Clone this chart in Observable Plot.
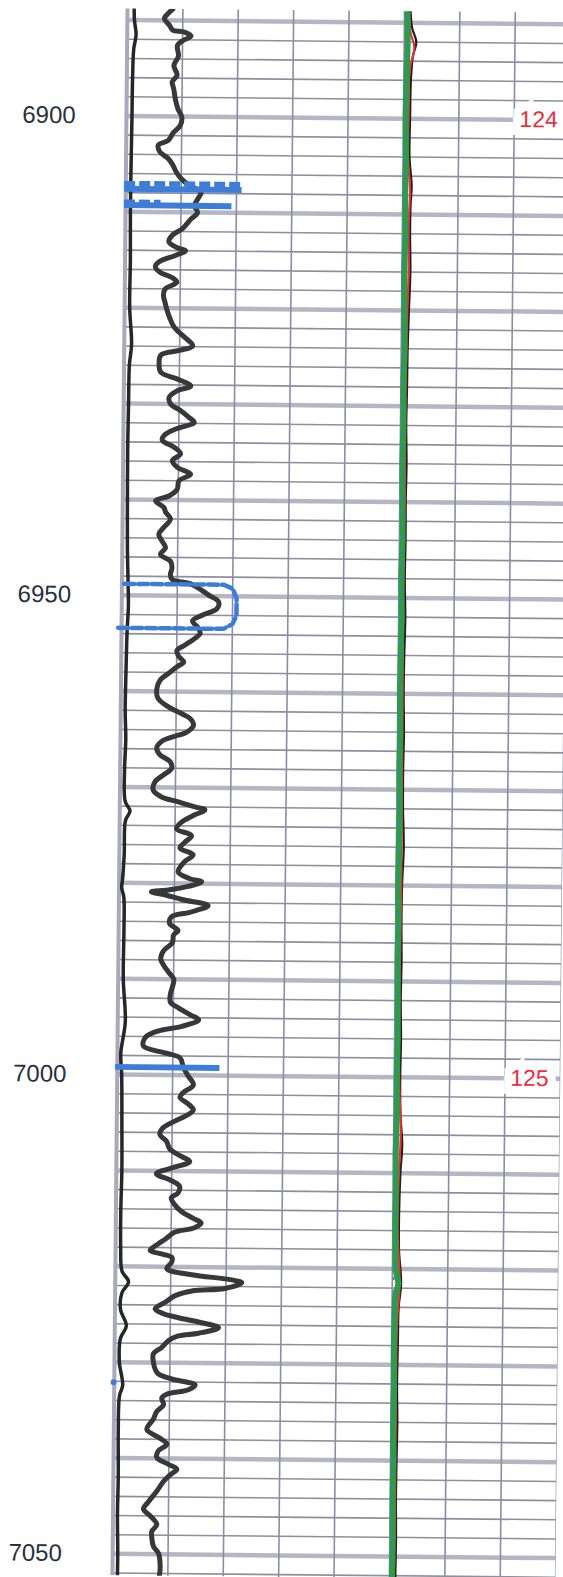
<!DOCTYPE html>
<html><head><meta charset="utf-8">
<script src="https://cdn.jsdelivr.net/npm/d3@7"></script>
<script src="https://cdn.jsdelivr.net/npm/@observablehq/plot@0.6"></script>
<style>
html,body{margin:0;padding:0;background:#fff;overflow:hidden;}
#chart svg{display:block;transform:rotate(0.55deg);transform-origin:50% 50%;}
</style></head><body><div id="chart"></div>
<script>
// ---- Depth labels / grid ----
const depthLabels = [6900, 6950, 7000, 7050];
const columnTicks = [0, 25, 50, 75, 100, 125, 150, 175, 200];
const thinStep = 2, thickStep = 10;

// ---- Gamma-ray style curve (track 1) ----
const grDepth = [6888.8,6889.3,6889.8,6890.5,6891.0,6891.2,6891.6,6892.1,6892.6,6893.7,6894.7,6895.7,6896.4,6897.1,6898.2,6899.2,6900.1,6901.0,6901.7,6902.5,6903.0,6903.7,6904.4,6905.1,6905.8,6906.5,6907.2,6907.9,6908.6,6909.3,6910.0,6910.7,6911.7,6912.4,6913.1,6913.7,6914.0,6914.5,6915.2,6915.7,6916.3,6916.8,6917.3,6918.0,6918.7,6919.4,6920.1,6920.9,6922.0,6923.0,6923.9,6924.4,6924.9,6925.8,6926.7,6927.4,6928.1,6928.6,6929.3,6930.0,6930.7,6931.4,6931.9,6932.6,6933.3,6933.8,6934.5,6935.2,6935.9,6936.6,6937.3,6938.0,6938.9,6939.6,6940.1,6940.8,6941.3,6942.0,6942.9,6943.6,6944.3,6945.0,6945.7,6946.4,6947.1,6947.8,6948.3,6948.8,6949.9,6950.6,6951.3,6952.0,6952.6,6953.3,6953.9,6954.4,6955.1,6955.7,6956.3,6956.9,6957.4,6958.1,6958.8,6959.7,6960.7,6961.6,6962.3,6962.8,6963.5,6964.2,6964.7,6965.2,6965.9,6966.6,6967.3,6968.0,6968.7,6969.4,6970.3,6971.0,6971.5,6972.0,6972.3,6972.9,6973.6,6974.3,6975.0,6975.7,6976.3,6977.0,6977.7,6978.8,6979.5,6979.8,6980.3,6980.7,6980.9,6981.2,6981.7,6982.3,6983.0,6983.5,6984.2,6984.9,6985.4,6986.2,6987.0,6987.9,6988.6,6989.3,6990.0,6990.9,6991.6,6992.4,6993.0,6993.7,6994.2,6994.9,6995.4,6996.1,6997.0,6997.7,6998.2,6999.2,7000.1,7001.0,7001.8,7002.3,7003.0,7003.6,7004.1,7004.8,7005.5,7006.2,7006.9,7007.7,7008.4,7009.0,7009.7,7010.3,7011.0,7011.6,7012.3,7012.8,7013.5,7014.2,7014.9,7015.4,7015.9,7016.4,7017.1,7017.6,7018.3,7018.7,7019.0,7019.5,7020.2,7020.8,7021.3,7021.6,7022.2,7022.5,7023.0,7023.7,7024.4,7024.9,7025.3,7025.8,7026.3,7026.9,7027.2,7027.7,7028.4,7029.1,7030.0,7030.7,7031.2,7031.7,7032.3,7032.8,7033.3,7033.7,7034.4,7035.1,7035.9,7037.0,7037.8,7038.5,7039.2,7039.9,7040.6,7041.1,7041.7,7042.4,7043.4,7044.5,7045.3,7046.0,7046.9,7047.6,7048.3,7049.2,7049.9,7051.4,7052.5];
const grValue = [20.5,18.2,16.7,19.0,20.5,25.8,28.8,25.0,22.7,23.2,21.2,22.7,20.5,21.2,22.0,23.2,25.0,24.2,21.2,19.0,14.5,15.2,19.0,21.2,22.7,25.0,28.8,34.0,32.5,31.0,32.5,29.5,25.8,21.2,19.7,23.5,27.3,22.7,15.2,13.7,16.0,21.2,23.5,18.2,17.5,18.2,19.0,20.2,22.5,27.1,30.9,24.8,16.6,15.8,16.6,24.2,30.2,24.2,20.5,21.2,25.8,29.6,31.9,23.6,18.3,17.6,22.9,25.9,22.2,24.5,30.5,25.3,24.5,20.8,14.8,18.6,19.4,21.6,18.6,16.4,17.9,19.5,17.2,21.8,22.5,21.8,22.6,31.6,39.2,43.7,43.0,36.3,32.0,34.5,35.5,33.3,28.9,25.1,25.9,28.2,25.2,21.4,17.7,16.2,16.7,21.5,27.6,31.4,32.9,29.9,23.9,18.6,16.4,17.9,22.5,23.2,19.5,15.8,15.0,18.8,26.4,33.9,38.4,33.2,27.9,25.7,32.5,29.5,27.3,33.3,29.6,26.6,31.9,37.2,31.2,22.1,14.6,20.6,28.9,40.3,32.0,23.7,23.0,26.8,24.8,24.3,20.5,19.1,20.6,22.8,25.1,24.4,23.6,23.7,27.5,32.7,36.5,29.0,18.5,12.5,11.7,21.5,28.3,29.8,32.1,34.4,29.9,28.4,32.2,34.5,32.2,26.2,20.9,19.5,22.5,24.0,28.6,33.1,24.8,18.1,24.8,28.6,27.9,24.9,26.4,29.4,34.7,38.5,35.5,26.5,22.5,19.3,15.6,21.6,25.4,25.4,23.2,34.5,52.6,57.1,49.6,34.6,27.1,22.6,18.1,21.9,28.7,39.2,46.8,37.8,28.7,24.3,21.3,17.5,17.6,18.4,19.9,25.9,36.5,33.5,23.7,21.5,22.3,19.3,17.8,14.9,20.2,24.0,20.2,19.5,24.8,28.6,25.6,22.6,19.7,16.0,13.7,16.8,19.8,17.6,17.6,18.4,20.7,21.5,21.0];

// ---- Left edge curve (track 1, near zero) ----
const leftDepth = [6888,6890,6891.5,6893,6896,6900,6905,6910,6915,6920,6923.8,6926,6930,6935,6940,6945,6949,6951,6954,6958,6962,6965,6968,6971.5,6972.5,6973.5,6977,6979.5,6980.5,6981.5,6985,6990,6994.5,6997.8,7000,7005,7010,7014,7018,7020.5,7021.6,7022.8,7024.5,7026.2,7027.5,7030,7032.4,7033.5,7037,7042,7046,7050,7053];
const leftValue = [3.0,3.2,4.0,3.0,2.6,2.5,2.3,2.2,2.4,2.3,3.3,2.4,2.2,2.0,2.1,2.3,2.8,3.0,2.5,2.2,2.0,2.4,2.0,2.4,4.6,2.6,2.2,1.6,1.2,2.2,2.4,2.3,3.4,1.5,2.0,2.3,2.5,2.2,2.3,3.0,6.0,3.0,2.5,5.2,2.6,2.2,3.8,2.4,2.0,2.2,2.0,2.3,2.2];

// ---- Track 2 curves (green / red / black) ----
const greenDepth = [6888,6892,6896,6900,6904,6908,6912,6916,6920,6924,6928,6932,6936,6940,6944,6948,6952,6956,6960,6964,6968,6972,6976,6980,6984,6988,6992,6996,7000,7004,7008,7012,7016,7020,7021.5,7023,7028,7032,7036,7040,7044,7048,7053];
const greenValue = [126.3,126.6,126.2,126.0,126.3,126.1,126.4,126.0,126.2,126.5,126.1,126.3,126.0,126.2,126.4,126.0,126.3,126.1,125.9,126.2,126.0,126.3,126.1,125.9,126.2,126.0,126.2,126.4,126.1,126.3,126.0,126.2,126.1,126.4,127.8,126.3,126.0,126.2,126.0,126.2,126.1,126.3,126.1];
const blackDepth = [6888,6890.5,6892,6893.5,6896,6900,6904,6907,6909,6912,6916,6920,6924,6928,6932,6936,6940,6944,6948,6952,6956,6960,6964,6968,6972,6976,6980,6984,6988,6992,6996,7000,7004,7007,7010,7014,7018,7021.5,7024,7028,7032,7036,7040,7044,7048,7053];
const blackValue = [127.6,128.5,130.5,129.0,128.2,128.0,127.9,129.0,128.6,128.5,128.8,128.3,127.9,127.8,127.6,127.9,127.7,127.8,127.6,128.0,127.7,127.6,127.9,127.7,127.8,128.3,127.7,127.6,127.8,127.6,127.9,127.7,128.0,128.9,128.2,127.8,127.9,129.0,128.0,127.8,127.6,127.9,127.7,127.6,127.8,127.6];
const redDepth = [6888,6891,6892.5,6895,6900,6904,6907.5,6911,6916,6922,6930,6940,6950,6960,6970,6980,6990,7000,7006,7010,7016,7021.5,7026,7035,7045,7053];
const redValue = [127.0,127.8,129.6,127.6,127.3,127.2,128.3,127.8,128.0,127.4,127.1,127.2,127.0,127.1,127.2,127.3,127.0,127.2,128.2,127.5,127.2,128.3,127.3,127.1,127.2,127.0];
const blueTickDepth = [6888, 7053];
const blueTickValue = [125.6, 125.6];

// ---- Blue interval markers ----
const markerDepth = [6907.05, 6907.6, 6909.0, 6909.3, 6999.2];
const markerFrom  = [-0.5, -0.5, -0.5, -0.5, -0.8];
const markerTo    = [52.5, 52.5, 16, 48, 46.3];
const markerDash  = [true, false, true, false, false];
const boxDepth = [6948.8, 6948.8, 6949.2, 6950.2, 6952.0, 6952.9, 6953.4, 6953.4];
const boxValue = [1, 46, 50, 51.8, 51.8, 50, 46, -1.5];
const dotDepth = [7032.1];
const dotValue = [-0.3];

// ---- Red annotations ----
const noteDepth = [6900, 7000];
const noteText = ["124", "125"];
const noteX = [186, 186];

// ---- build tables ----
const zip = (ds, vs) => ds.map((d, i) => ({d, v: vs[i]}));
const gr = zip(grDepth, grValue);
const leftCurve = zip(leftDepth, leftValue);
const green = zip(greenDepth, greenValue);
const black = zip(blackDepth, blackValue);
const red = zip(redDepth, redValue);
const blueTick = zip(blueTickDepth, blueTickValue);
const markers = markerDepth.map((d, i) => ({d, from: markerFrom[i], to: markerTo[i], dash: markerDash[i]}));
const box = zip(boxDepth, boxValue);
const dots = zip(dotDepth, dotValue);
const notes = noteDepth.map((d, i) => ({d, t: noteText[i], x: noteX[i]}));

const yTop = 6888.84, yBottom = 7052.3;
const thinGrid = d3.range(6890, 7053, thinStep);
const thickGrid = d3.range(6890, 7053, thickStep);
const blue = "#3d7dd8";

const plot = Plot.plot({
  width: 563, height: 1577,
  marginLeft: 119.5, marginRight: 0.3, marginTop: 10, marginBottom: 0,
  x: {domain: [0, 200], axis: null},
  y: {domain: [yTop, yBottom], reverse: true, axis: null, label: null},
  style: {background: "#fff", fontFamily: "'Liberation Sans', Arial, sans-serif"},
  marks: [
    Plot.ruleY(thinGrid, {stroke: "#8e8ea0", strokeWidth: 1.6}),
    Plot.ruleY(thickGrid, {stroke: "#b5b5c4", strokeWidth: 4.5}),
    Plot.ruleX(columnTicks.slice(1), {stroke: "#8c8ca8", strokeWidth: 1.6}),
    Plot.ruleX([0], {stroke: "#a9a9bb", strokeWidth: 4}),
    Plot.line(leftCurve, {x: "v", y: "d", stroke: "#262626", strokeWidth: 3.5, curve: "catmull-rom", clip: true}),
    Plot.line(gr, {x: "v", y: "d", stroke: "#383838", strokeWidth: 5, curve: "catmull-rom", clip: true}),
    Plot.line(black, {x: "v", y: "d", stroke: "#1e1e1e", strokeWidth: 2.2, curve: "catmull-rom", clip: true}),
    Plot.line(red, {x: "v", y: "d", stroke: "#e8303a", strokeWidth: 2.2, curve: "catmull-rom", clip: true}),
    Plot.line(green, {x: "v", y: "d", stroke: "#2f9b48", strokeWidth: 6, clip: true}),
    Plot.line(blueTick, {x: "v", y: "d", stroke: blue, strokeWidth: 1.5, strokeDasharray: "2,11", clip: true}),
    Plot.ruleY(markers.filter(m => !m.dash), {y: "d", x1: "from", x2: "to", stroke: blue, strokeWidth: 6}),
    Plot.ruleY(markers.filter(m => m.dash), {y: "d", x1: "from", x2: "to", stroke: blue, strokeWidth: 5.5, strokeDasharray: "11,4"}),
    Plot.line(box, {x: "v", y: "d", stroke: blue, strokeWidth: 4.5, strokeDasharray: "10,4", curve: "linear"}),
    Plot.dot(dots, {x: "v", y: "d", r: 3, fill: blue}),
    Plot.text(notes, {x: "x", y: "d", text: "t", fill: "#ee2b3a", stroke: "white", strokeWidth: 16, paintOrder: "stroke", fontSize: 23, strokeLinejoin: "miter"}),
    Plot.axisY({ticks: depthLabels, tickSize: 0, tickPadding: 77.5, textAnchor: "middle", fontSize: 24, fill: "#27303d", tickFormat: "d", label: null})
  ]
});
document.getElementById("chart").appendChild(plot);
</script></body></html>
